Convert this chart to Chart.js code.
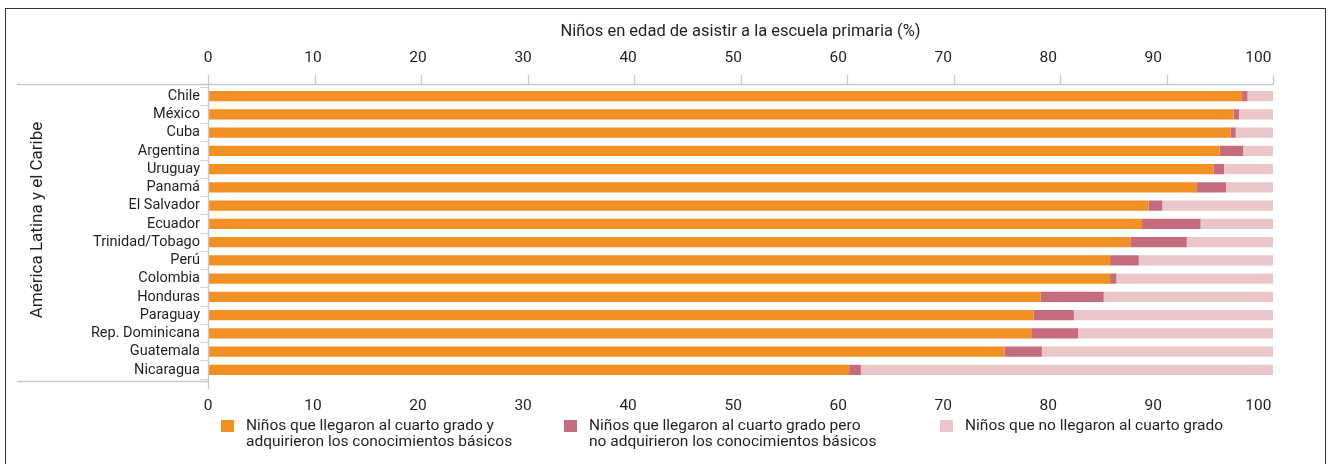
<!DOCTYPE html>
<html lang="es">
<head>
<meta charset="UTF-8">
<title>Niños en edad de asistir a la escuela primaria</title>
<script src="https://cdn.jsdelivr.net/npm/chart.js"></script>
<style>
  html,body{margin:0;padding:0;background:#fff;font-family:Roboto,sans-serif;color:#231f20}
  .wrap{position:relative;width:1335px;height:464px;overflow:hidden}
  .frame{position:absolute;left:5px;top:8px;width:1321px;height:480px;border:1.5px solid #333;box-sizing:border-box}
  canvas{position:absolute;left:0;top:0}
  .legend-item{position:absolute;top:418px;font-size:15.5px;line-height:15.6px;white-space:pre-line;padding-left:25px}
  .legend-item .box{position:absolute;left:0;top:2px;width:13px;height:12px}
</style>
</head>
<body>
<div class="wrap">
  <div class="frame"></div>
  <canvas id="chart" width="1335" height="464"></canvas>
  <div id="legend"></div>
</div>
<script>
const categories = ['Chile','México','Cuba','Argentina','Uruguay','Panamá','El Salvador','Ecuador',
  'Trinidad/Tobago','Perú','Colombia','Honduras','Paraguay','Rep. Dominicana','Guatemala','Nicaragua'];
const reachedAndLearned = [97.1, 96.3, 96.0, 95.0, 94.4, 92.8, 88.3, 87.7, 86.6, 84.7, 84.7, 78.2, 77.5, 77.3, 74.8, 60.2];
const reachedNotLearned = [0.5, 0.5, 0.5, 2.2, 1.0, 2.8, 1.3, 5.5, 5.3, 2.7, 0.6, 5.9, 3.8, 4.4, 3.5, 1.1];
const notReached = [2.4, 3.2, 3.5, 2.8, 4.6, 4.4, 10.4, 6.8, 8.1, 12.6, 14.7, 15.9, 18.7, 18.3, 21.7, 38.7];
const tickValues = [0, 10, 20, 30, 40, 50, 60, 70, 80, 90, 100];
const seriesLabels = [
  'Niños que llegaron al cuarto grado y\nadquirieron los conocimientos básicos',
  'Niños que llegaron al cuarto grado pero\nno adquirieron los conocimientos básicos',
  'Niños que no llegaron al cuarto grado'
];

const colors = ['#f39024', '#c56b7e', '#eac6c9'];
const textColor = '#231f20';
const lineColor = '#c9c9c9';
// the printed labels drift a little left of the tick marks, as in the source
const labelAxisMax = 101.4;

const tickFont = {family: 'Roboto', size: 15.5};

const frameLines = {
  id: 'frameLines',
  afterDraw(chart) {
    const {ctx, chartArea} = chart;
    const sx = chart.scales.x;
    const x0 = Math.round(sx.getPixelForValue(0)) + 0.5;
    const x100 = Math.round(sx.getPixelForValue(100)) + 0.5;
    const topY = chartArea.top - 2.5;
    const botY = chartArea.bottom + 2.5;
    ctx.save();
    ctx.strokeStyle = lineColor;
    ctx.lineWidth = 1.3;
    ctx.beginPath();
    ctx.moveTo(17, topY); ctx.lineTo(x100, topY);
    ctx.moveTo(17, botY); ctx.lineTo(x0, botY);
    ctx.moveTo(x0, chartArea.top - 12); ctx.lineTo(x0, chartArea.bottom + 10);
    tickValues.forEach(v => {
      const px = Math.round(sx.getPixelForValue(v)) + 0.5;
      ctx.moveTo(px, chartArea.top - 12); ctx.lineTo(px, topY);
    });
    ctx.stroke();
    // rotated group title
    ctx.fillStyle = textColor;
    ctx.font = '17px Roboto';
    ctx.textAlign = 'center';
    ctx.textBaseline = 'middle';
    ctx.translate(38, 220);
    ctx.rotate(-Math.PI / 2);
    ctx.fillText('América Latina y el Caribe', 0, 0);
    ctx.restore();
  }
};

const datasets = [reachedAndLearned, reachedNotLearned, notReached].map((d, i) => ({
  label: seriesLabels[i],
  data: d,
  backgroundColor: colors[i],
  borderWidth: 0,
  barPercentage: 0.56,
  categoryPercentage: 1,
  xAxisID: 'x',
  yAxisID: 'y'
}));

const labelAxis = (pos, height, pad) => ({
  type: 'linear',
  position: pos,
  min: 0,
  max: labelAxisMax,
  grid: {display: false},
  border: {display: false},
  afterBuildTicks: s => { s.ticks = tickValues.map(v => ({value: v})); },
  afterFit: s => { s.height = height; },
  ticks: {font: tickFont, color: textColor, padding: pad, maxRotation: 0, autoSkip: false}
});

const chart = new Chart(document.getElementById('chart'), {
  type: 'bar',
  data: {labels: categories, datasets},
  options: {
    indexAxis: 'y',
    responsive: false,
    animation: false,
    layout: {padding: {left: 0, right: 62, top: 0, bottom: 0}},
    plugins: {legend: {display: false}, tooltip: {enabled: false}},
    scales: {
      x: {type: 'linear', stacked: true, min: 0, max: 100, display: false},
      xTop: Object.assign(labelAxis('top', 87, 12), {
        title: {display: true, text: 'Niños en edad de asistir a la escuela primaria (%)',
          font: {family: 'Roboto', size: 16.5}, color: textColor, padding: {top: 22, bottom: 0}}
      }),
      xBottom: labelAxis('bottom', 85, 10),
      y: {
        type: 'category',
        stacked: true,
        afterFit: s => { s.width = 208; },
        border: {display: false},
        grid: {display: true, drawOnChartArea: false, tickLength: 8, color: '#d3d3d3', offset: true},
        ticks: {font: {family: 'Roboto', size: 14.5}, color: textColor, padding: 0, autoSkip: false}
      }
    }
  },
  plugins: [frameLines]
});

// legend built from the chart's datasets
const legendLeft = [221, 564, 940];
const legend = document.getElementById('legend');
chart.data.datasets.forEach((ds, i) => {
  const item = document.createElement('div');
  item.className = 'legend-item';
  item.style.left = legendLeft[i] + 'px';
  const box = document.createElement('span');
  box.className = 'box';
  box.style.background = ds.backgroundColor;
  item.appendChild(box);
  item.appendChild(document.createTextNode(ds.label));
  legend.appendChild(item);
});
</script>
</body>
</html>
